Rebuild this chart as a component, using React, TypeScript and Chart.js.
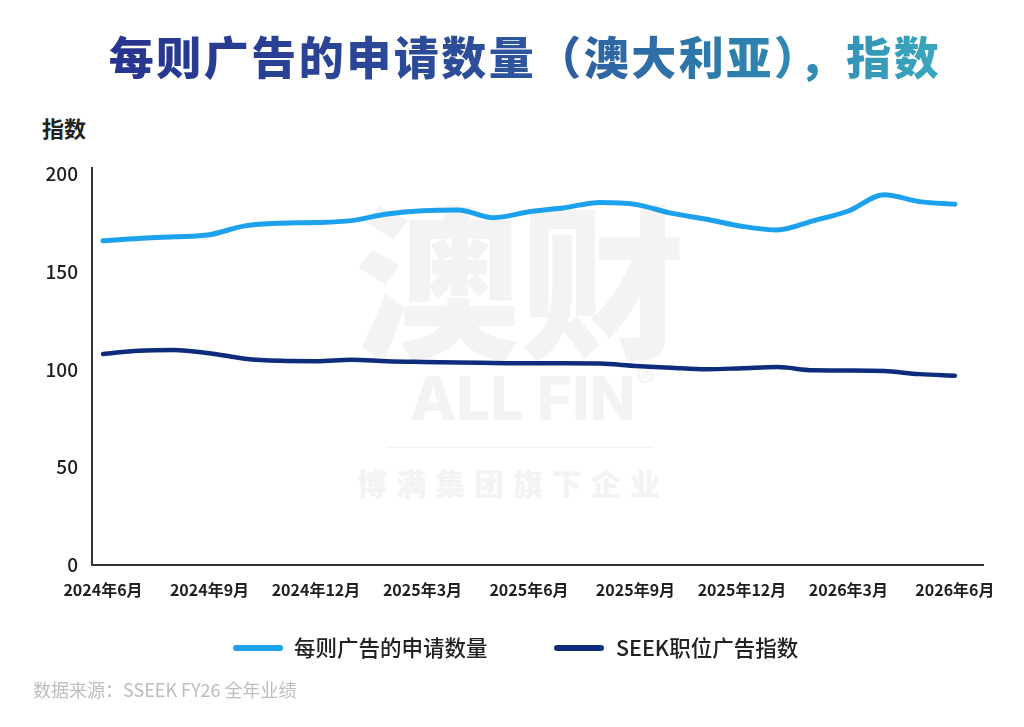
import React, { useEffect, useRef } from "react";
import { Chart, registerables } from "chart.js";

Chart.register(...registerables);

// monthly points, Jun 2024 .. Jun 2026
const months = [
  "2024-06", "2024-07", "2024-08", "2024-09", "2024-10", "2024-11", "2024-12",
  "2025-01", "2025-02", "2025-03", "2025-04", "2025-05", "2025-06", "2025-07",
  "2025-08", "2025-09", "2025-10", "2025-11", "2025-12", "2026-01", "2026-02",
  "2026-03", "2026-04", "2026-05", "2026-06",
];

const applicationsPerAd = [
  165.8, 167.0, 167.8, 168.9, 173.4, 174.8, 175.1, 176.1, 179.5, 181.2, 181.5,
  177.6, 180.6, 182.7, 185.4, 184.4, 179.9, 176.8, 173.2, 171.3, 176.0, 181.0,
  189.3, 185.8, 184.5,
];

const seekAdIndex = [
  107.9, 109.6, 110.0, 108.3, 105.5, 104.4, 104.2, 105.0, 104.2, 103.8, 103.5,
  103.3, 103.1, 103.1, 103.0, 101.8, 100.9, 100.1, 100.6, 101.2, 99.6, 99.5,
  99.2, 97.6, 96.8,
];

// one label every 3 months
const tickLabels = [
  "2024年6月", "2024年9月", "2024年12月", "2025年3月", "2025年6月",
  "2025年9月", "2025年12月", "2026年3月", "2026年6月",
];

const seriesNames = ["每则广告的申请数量", "SEEK职位广告指数"];
const lightBlue = "#1CA1EF";
const navy = "#0E2C7C";
const cjk = "'Noto Sans CJK SC', 'Noto Sans', sans-serif";

const App: React.FC = () => {
  const chartRef = useRef<HTMLCanvasElement>(null);
  const chartInstance = useRef<Chart | null>(null);

  useEffect(() => {
    if (!chartRef.current) return;
    if (chartInstance.current) chartInstance.current.destroy();

    const ctx = chartRef.current.getContext("2d");
    if (!ctx) return;

    chartInstance.current = new Chart(ctx, {
      type: "line",
      data: {
        labels: months,
        datasets: [
          {
            label: seriesNames[0],
            data: applicationsPerAd.map((v, i) => ({ x: i, y: v })),
            borderColor: lightBlue,
            borderWidth: 5,
            borderCapStyle: "round",
            borderJoinStyle: "round",
            cubicInterpolationMode: "monotone",
            pointRadius: 0,
            fill: false,
          },
          {
            label: seriesNames[1],
            data: seekAdIndex.map((v, i) => ({ x: i, y: v })),
            borderColor: navy,
            borderWidth: 4.5,
            borderCapStyle: "round",
            borderJoinStyle: "round",
            cubicInterpolationMode: "monotone",
            pointRadius: 0,
            fill: false,
          },
        ],
      },
      options: {
        animation: false,
        responsive: false,
        maintainAspectRatio: false,
        events: [],
        plugins: {
          legend: { display: false },
          tooltip: { enabled: false },
        },
        layout: {
          padding: { left: 0, right: 41, top: 168, bottom: 122 },
        },
        scales: {
          x: {
            type: "linear",
            min: -0.31,
            max: 24.79,
            grid: { display: false, drawTicks: false },
            border: { display: true, color: "#333333", width: 2 },
            afterFit: (scale) => {
              scale.height = 40;
            },
            ticks: {
              stepSize: 3,
              includeBounds: false,
              autoSkip: false,
              maxRotation: 0,
              padding: 15,
              color: "#1f1f1f",
              font: { family: cjk, size: 16, weight: 600 },
              callback: (value) => tickLabels[Math.round(Number(value) / 3)] ?? "",
            },
          },
          y: {
            min: 0,
            max: 203,
            grid: { display: false, drawTicks: false },
            border: { display: true, color: "#333333", width: 2 },
            afterFit: (scale) => {
              scale.width = 92;
            },
            ticks: {
              stepSize: 50,
              includeBounds: false,
              padding: 14,
              color: "#1f1f1f",
              font: { family: cjk, size: 19, weight: 500 },
            },
          },
        },
      },
    });

    return () => {
      if (chartInstance.current) {
        chartInstance.current.destroy();
        chartInstance.current = null;
      }
    };
  }, []);

  const wm = "#f3f3f3";

  return (
    <div
      style={{
        position: "absolute",
        left: 0,
        top: 0,
        width: 1024,
        height: 727,
        background: "#ffffff",
        overflow: "hidden",
        fontFamily: cjk,
      }}
    >
      {/* watermark */}
      <div style={{ position: "absolute", left: 355, top: 192, fontSize: 165, lineHeight: 1, fontWeight: 900, color: wm, whiteSpace: "nowrap" }}>
        澳财
      </div>
      <div style={{ position: "absolute", left: 410, top: 368, fontSize: 60, lineHeight: 1, fontWeight: 800, color: wm, fontFamily: "Inter, sans-serif", whiteSpace: "nowrap" }}>
        ALL FIN
      </div>
      <div style={{ position: "absolute", left: 636, top: 364, fontSize: 28, lineHeight: 1, color: wm, fontFamily: "Inter, sans-serif" }}>
        ®
      </div>
      <div style={{ position: "absolute", left: 387, top: 447, width: 266, height: 1, background: wm }} />
      <div style={{ position: "absolute", left: 357, top: 467, fontSize: 30, lineHeight: 1, fontWeight: 900, color: wm, letterSpacing: 9, whiteSpace: "nowrap" }}>
        博满集团旗下企业
      </div>

      {/* title */}
      <div
        style={{
          position: "absolute",
          left: 0,
          top: 31,
          width: 1050,
          textAlign: "center",
          fontSize: 45,
          lineHeight: 1.1,
          fontWeight: 900,
          letterSpacing: 2.5,
          whiteSpace: "nowrap",
        }}
      >
        <span
          style={{
            background: "linear-gradient(90deg, #27348f 0%, #2d4f9a 45%, #2f86b0 80%, #3aa7bd 100%)",
            WebkitBackgroundClip: "text",
            backgroundClip: "text",
            color: "transparent",
          }}
        >
          每则广告的申请数量（澳大利亚），指数
        </span>
      </div>

      {/* y axis title */}
      <div style={{ position: "absolute", left: 42, top: 116, fontSize: 22, lineHeight: 1, fontWeight: 700, color: "#222" }}>
        指数
      </div>

      <canvas
        ref={chartRef}
        width={1024}
        height={727}
        style={{ position: "absolute", left: 0, top: 0, width: 1024, height: 727 }}
      />

      {/* legend */}
      <div style={{ position: "absolute", left: 233, top: 645, width: 50, height: 6, borderRadius: 3, background: lightBlue }} />
      <div style={{ position: "absolute", left: 294, top: 635, fontSize: 21.5, lineHeight: 1.1, fontWeight: 500, color: "#222", whiteSpace: "nowrap" }}>
        {seriesNames[0]}
      </div>
      <div style={{ position: "absolute", left: 554, top: 645, width: 50, height: 6, borderRadius: 3, background: navy }} />
      <div style={{ position: "absolute", left: 616, top: 635, fontSize: 21.5, lineHeight: 1.1, fontWeight: 500, color: "#222", whiteSpace: "nowrap" }}>
        {seriesNames[1]}
      </div>

      {/* source */}
      <div style={{ position: "absolute", left: 33, top: 680, fontSize: 18, lineHeight: 1.1, color: "#bdbdbd", whiteSpace: "nowrap" }}>
        数据来源：SSEEK FY26 全年业绩
      </div>
    </div>
  );
};

export default App;
